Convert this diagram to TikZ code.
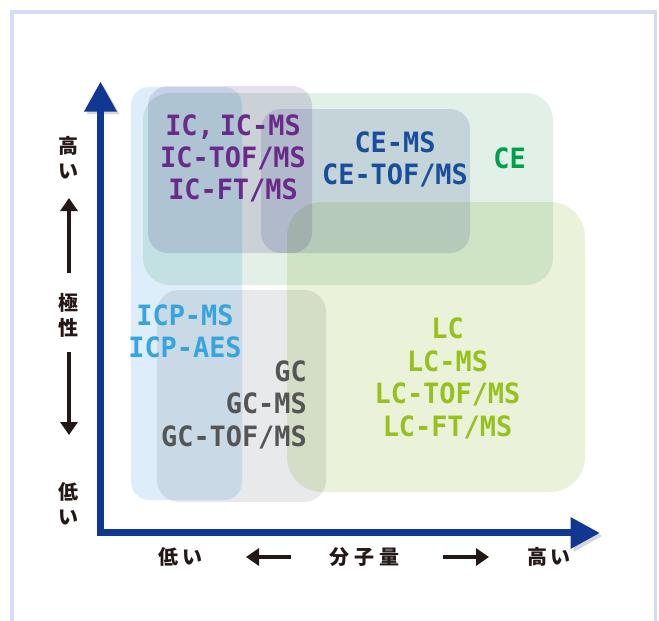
\documentclass[tikz,border=0pt]{standalone}
\usepackage{fontspec}
\usetikzlibrary{arrows.meta}
\newfontfamily\labfont[FakeStretch=0.96]{DejaVu Sans Mono}
\newfontfamily\jpfont{Noto Sans CJK JP}
\definecolor{ink}{RGB}{35,24,21}
\definecolor{axisblue}{RGB}{16,56,145}
\definecolor{framec}{RGB}{214,220,243}
\definecolor{icpc}{HTML}{DDEEFA}
\definecolor{icc}{HTML}{E6E0EE}
\definecolor{cec}{HTML}{E2F0E7}
\definecolor{cemsc}{HTML}{DFE2F0}
\definecolor{lcc}{HTML}{EAF3D9}
\definecolor{gcc}{HTML}{E8E9EA}
\definecolor{ictext}{RGB}{106,42,138}
\definecolor{cemstext}{RGB}{24,78,155}
\definecolor{cetext}{RGB}{0,160,75}
\definecolor{icptext}{RGB}{54,165,222}
\definecolor{gctext}{RGB}{85,85,85}
\definecolor{lctext}{RGB}{150,193,30}
\begin{document}
\begin{tikzpicture}[x=1pt,y=-1pt,
  lab/.style={font=\labfont\bfseries\fontsize{28}{32}\selectfont, inner sep=0pt, anchor=base},
  jp/.style={font=\jpfont\bfseries\fontsize{20}{25}\selectfont, text=ink, inner sep=0pt, align=center},
  ptr/.style={draw=ink, line width=3.5pt, -{Triangle[length=13pt,width=17pt]}},
  axisline/.style={draw=axisblue, line width=6.5pt, line join=miter},
  axishead/.style={fill=axisblue},
  shadow/.style={draw=black!45, opacity=0.35, line width=6.5pt, line join=miter}]
\useasboundingbox (0,0) rectangle (659,621);
\fill[white] (0,0) rectangle (659,621);
\draw[framec, line width=3.5pt] (12,625) -- (12,12) -- (655.5,12) -- (655.5,625);

% regions
\begin{scope}[blend mode=multiply]
\fill[icpc, rounded corners=18pt] (131,87) rectangle (242,500);
\fill[gcc, rounded corners=22pt] (157,290) rectangle (326,502);
\fill[lcc, rounded corners=35pt] (287,202) rectangle (585,492);
\fill[cec, rounded corners=27pt] (143,93) rectangle (553,285);
\fill[icc, rounded corners=20pt] (148,86) rectangle (312,253);
\fill[cemsc, rounded corners=20pt] (261,109) rectangle (470,253);
\end{scope}

% axes
\coordinate (ytop) at (100.5,111);
\coordinate (orig) at (100.5,532.5);
\coordinate (xend) at (571,532.5);
\begin{scope}[shift={(2.5,3)}]
\draw[shadow] (ytop) -- (orig) -- (xend);
\fill[black!45, opacity=0.35] (84,111) -- (100.5,82) -- (117,111) -- cycle;
\fill[black!45, opacity=0.35] (571,517) -- (599.5,533) -- (571,549) -- cycle;
\end{scope}
\draw[axisline] (ytop) -- (orig) -- (xend);
\fill[axishead] (84,111.5) -- (100.5,82) -- (117,111.5) -- cycle;
\fill[axishead] (570.5,517) -- (599.5,533) -- (570.5,549) -- cycle;

% method labels
\node[lab, text=ictext] (ic1) at (233,135) {IC,\hspace{6pt}IC-MS};
\node[lab, text=ictext] (ic2) at (233,167) {IC-TOF/MS};
\node[lab, text=ictext] (ic3) at (233,199) {IC-FT/MS};
\node[lab, text=cemstext] (cems1) at (395,152) {CE-MS};
\node[lab, text=cemstext] (cems2) at (395,184) {CE-TOF/MS};
\node[lab, text=cetext] (ce) at (509.5,168) {CE};
\node[lab, text=icptext] (icp1) at (185,325) {ICP-MS};
\node[lab, text=icptext] (icp2) at (185,357) {ICP-AES};
\node[lab, text=gctext, anchor=base east] (gc1) at (307,381) {GC};
\node[lab, text=gctext, anchor=base east] (gc2) at (307,413.5) {GC-MS};
\node[lab, text=gctext, anchor=base east] (gc3) at (307,446) {GC-TOF/MS};
\node[lab, text=lctext] (lc1) at (447.5,338) {LC};
\node[lab, text=lctext] (lc2) at (447.5,371) {LC-MS};
\node[lab, text=lctext] (lc3) at (447.5,403.5) {LC-TOF/MS};
\node[lab, text=lctext] (lc4) at (447.5,436) {LC-FT/MS};

% axis captions
\node[jp] (yhigh) at (68,157.5) {高\\い};
\node[jp] (ypol) at (68,315) {極\\性};
\node[jp] (ylow) at (68,503.5) {低\\い};
\node[jp] (xlow) at (180,557) {低\hspace{4pt}い};
\node[jp] (xmw) at (364,557) {分\hspace{5pt}子\hspace{5pt}量};
\node[jp] (xhigh) at (549,557) {高\hspace{3pt}い};

\coordinate (up0) at (69,273);
\coordinate (up1) at (69,198);
\coordinate (dn0) at (69,352);
\coordinate (dn1) at (69,435);
\coordinate (lf0) at (291,557);
\coordinate (lf1) at (246,557);
\coordinate (rt0) at (443,557);
\coordinate (rt1) at (489,557);
\draw[ptr] (up0) -- (up1);
\draw[ptr] (dn0) -- (dn1);
\draw[ptr] (lf0) -- (lf1);
\draw[ptr] (rt0) -- (rt1);
\end{tikzpicture}
\end{document}
